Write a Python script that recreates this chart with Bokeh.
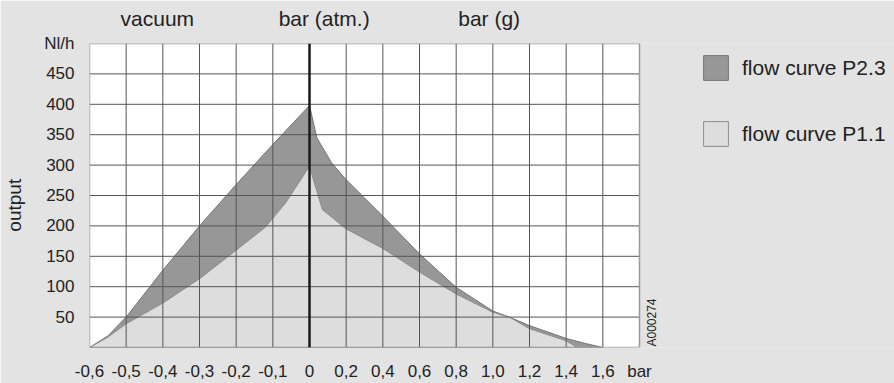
import numpy as np
from math import pi
from bokeh.plotting import figure
from bokeh.models import (Range1d, FixedTicker, Span, Legend, LegendItem, LinearAxis, Label)
from bokeh.embed import file_html
from bokeh.resources import INLINE

# ---- data (bar, Nl/h) ----
p23_bar = [-0.6, -0.55, -0.5, -0.4, -0.3, -0.2, -0.1, 0.0, 0.04, 0.12, 0.2, 0.3, 0.4,
           0.6, 0.8, 1.0, 1.09, 1.2, 1.4, 1.5, 1.6]
p23_flow = [0, 19, 50, 127, 200, 268, 334, 398, 345, 304, 276, 246, 216,
            154, 99, 60, 50, 36, 15, 7, 0]

p11_bar = [-0.6, -0.55, -0.5, -0.4, -0.3, -0.2, -0.12, -0.065, 0.0, 0.07, 0.2, 0.4,
           0.6, 0.8, 1.0, 1.09, 1.2, 1.4, 1.46]
p11_flow = [0, 17, 39, 73, 113, 160, 198, 238, 298, 227, 195, 163,
            124, 88, 58, 50, 31, 11, 0]

x_tick_bar = [-0.6, -0.5, -0.4, -0.3, -0.2, -0.1, 0.0, 0.2, 0.4, 0.6, 0.8, 1.0, 1.2, 1.4, 1.6, 1.8]
x_tick_labels = ["-0,6", "-0,5", "-0,4", "-0,3", "-0,2", "-0,1", "0", "0,2", "0,4",
                 "0,6", "0,8", "1,0", "1,2", "1,4", "1,6", "bar"]
y_ticks = [0, 50, 100, 150, 200, 250, 300, 350, 400, 450, 500]
y_tick_labels = ["", "50", "100", "150", "200", "250", "300", "350", "400", "450", "Nl/h"]

heading_labels = ["vacuum", "bar (atm.)", "bar (g)"]
series_names = ["flow curve P2.3", "flow curve P1.1"]
y_title = "output"
code_text = "A000274"


# piecewise axis: vacuum side 0.1 bar per cell, pressure side 0.2 bar per cell
def to_cell(b):
    b = np.asarray(b, dtype=float)
    return np.where(b < 0, 6 + b / 0.1, 6 + b / 0.2)


FONT = "Liberation Sans"
TXT = "#222222"
BG = "#e3e3e3"

xt = [float(v) for v in to_cell(x_tick_bar)]
x_lo, x_hi = xt[0], xt[-1]
y_lo, y_hi = y_ticks[0], y_ticks[-1]

W, H = 894, 383
LEFT, RIGHT_EDGE = 89, 639   # chart area spans these pixels; the rest holds the legend
frame_w = W - LEFT

p = figure(width=W, height=H, output_backend="svg", toolbar_location=None,
           x_range=Range1d(x_lo, x_lo + (x_hi - x_lo) * frame_w / (RIGHT_EDGE - LEFT)),
           y_range=Range1d(y_lo, y_hi),
           min_border_left=LEFT, min_border_right=0, min_border_top=43, min_border_bottom=35)
p.background_fill_color = BG
p.border_fill_color = BG
p.outline_line_color = None
p.xgrid.visible = False
p.ygrid.visible = False

# white chart area
p.quad(left=x_lo, right=x_hi, bottom=y_lo, top=y_hi, fill_color="white", line_color=None)

r23 = p.patch(to_cell(p23_bar), p23_flow, fill_color="#979797", line_color="#767676", line_width=1)
r11 = p.patch(to_cell(p11_bar), p11_flow, fill_color="#dddddd", line_color="#8c8c8c", line_width=1)

# grid lines on top of the areas, limited to the chart area
vx = xt[1:-1]
p.segment(x0=vx, y0=[y_lo] * len(vx), x1=vx, y1=[y_hi] * len(vx),
          line_color="#555555", line_width=1)
hy = y_ticks[1:-1]
p.segment(x0=[x_lo] * len(hy), y0=hy, x1=[x_hi] * len(hy), y1=hy,
          line_color="#555555", line_width=1)
p.quad(left=x_lo, right=x_hi, bottom=y_lo, top=y_hi, fill_color=None,
       line_color="#9a9a9a", line_width=1.5)

p.add_layout(Span(location=float(to_cell(0.0)), dimension="height", line_color="#1a1a1a",
                  line_width=2.5, level="annotation"))


def plain(ax, size):
    ax.axis_line_color = None
    ax.major_tick_line_color = None
    ax.minor_tick_line_color = None
    ax.major_label_text_font = FONT
    ax.major_label_text_font_size = size
    ax.major_label_text_color = TXT


p.xaxis.ticker = FixedTicker(ticks=xt)
p.xaxis.major_label_overrides = {t: l for t, l in zip(xt, x_tick_labels)}
p.yaxis.ticker = FixedTicker(ticks=y_ticks)
p.yaxis.major_label_overrides = {t: l for t, l in zip(y_ticks, y_tick_labels)}
plain(p.xaxis[0], "17px")
plain(p.yaxis[0], "17px")
p.xaxis.major_label_standoff = 8
p.yaxis.major_label_standoff = 9

# y title as an outer left axis so it can sit where the reference has it
ytitle_ax = LinearAxis(ticker=FixedTicker(ticks=[234]),
                       major_label_overrides={234: y_title},
                       major_label_orientation="vertical", major_label_standoff=10)
plain(ytitle_ax, "19px")
p.add_layout(ytitle_ax, "left")

# headings above the chart
head_pos = [1.85, 6.4, 10.9]
head_ax = LinearAxis(ticker=FixedTicker(ticks=head_pos),
                     major_label_overrides={t: l for t, l in zip(head_pos, heading_labels)},
                     major_label_standoff=8)
plain(head_ax, "21px")
p.add_layout(head_ax, "above")

# drawing code at the right edge of the chart
p.add_layout(Label(x=x_hi, y=y_lo, x_offset=12, y_offset=1, angle=pi / 2, text=code_text,
                   text_align="left", text_baseline="middle", text_font=FONT,
                   text_font_size="12px", text_color=TXT))

legend = Legend(items=[LegendItem(label=series_names[0], renderers=[r23]),
                       LegendItem(label=series_names[1], renderers=[r11])],
                location=(611, 198), orientation="vertical")
legend.glyph_width = 31
legend.glyph_height = 31
legend.spacing = 35
legend.padding = 0
legend.margin = 0
legend.border_line_color = None
legend.background_fill_alpha = 0
legend.label_standoff = 11
legend.label_text_font = FONT
legend.label_text_font_size = "21px"
legend.label_text_color = TXT
legend.label_text_baseline = "middle"
p.add_layout(legend, "center")

open("out.html", "w").write(file_html(p, INLINE))
